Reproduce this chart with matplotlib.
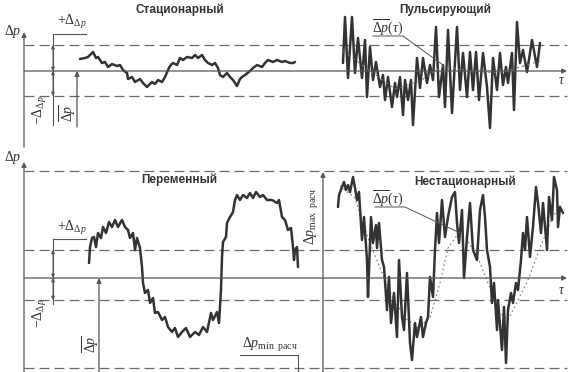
import matplotlib
matplotlib.use("Agg")
import matplotlib.pyplot as plt

plt.rcParams['mathtext.fontset'] = 'custom'
plt.rcParams['mathtext.rm'] = 'Liberation Serif'
plt.rcParams['mathtext.it'] = 'Liberation Serif:italic'
plt.rcParams['font.family'] = ['Liberation Sans', 'DejaVu Sans']

# ---- data (time in arbitrary units, pressure deviation from the mean) ----
stat_t = [80, 85, 88, 93, 96, 98, 102, 105, 108, 112, 117, 120, 123, 127, 128, 132, 135, 140, 143, 147,
          152, 155, 158, 162, 165, 168, 170, 173, 177, 180, 183, 187, 192, 195, 198, 202, 205, 208, 212,
          215, 218, 220, 223, 227, 230, 233, 237, 240, 242, 245, 250, 253, 257, 262, 265, 268, 273, 277,
          282, 285, 290, 293, 295]
stat_p = [12, 13, 14, 19, 13, 14, 8, 9, 4, 7, 5, 6, 1, -2, -8, -6, -11, -8, -12, -16,
          -11, -13, -9, -11, -6, 1, 5, 8, 6, 13, 11, 14, 13, 16, 13, 16, 11, 8, 6,
          8, 3, -4, -6, -2, -6, -9, -15, -8, -6, -4, 0, 3, 6, 4, 8, 11, 9, 11,
          9, 10, 8, 8, 9]

puls_t = [343, 345, 348, 352, 355, 358, 362, 365, 367, 370, 373, 376, 380, 383, 385, 388, 392, 395, 397,
          400, 403, 405, 408, 411, 413, 417, 420, 423, 427, 430, 433, 436, 439, 443, 445, 448, 452, 457,
          460, 463, 467, 470, 473, 476, 479, 483, 487, 490, 493, 497, 500, 503, 506, 508, 512, 514, 517,
          520, 523, 527, 532, 537, 540]
puls_p = [8, 54, -7, 54, -2, 33, -7, 31, -26, 24, -9, 9, -16, -4, -29, -6, -36, -12, -26,
          -6, -44, -9, -29, -9, -54, 13, -17, 13, -12, 6, -9, 44, -26, 6, -36, 41, -42, 44,
          -19, 18, -26, 19, -19, 19, -29, 18, -16, -57, 13, -19, 18, -14, 4, -12, 18, -39, 49,
          8, 21, -1, 31, 4, 28]
puls_mean_t = [343, 370, 395, 420, 443, 470, 500, 540]
puls_mean_p = [20, 0, -18, -10, 5, 0, -2, 10]

var_t = [89, 90, 92, 94, 96, 98, 101, 103, 106, 109, 112, 115, 118, 122, 125, 128, 130, 133, 135, 137,
         140, 142, 143, 145, 148, 150, 153, 155, 158, 162, 165, 168, 172, 175, 178, 182, 186, 190, 195,
         199, 203, 207, 211, 213, 217, 219, 221, 222, 223, 226, 227, 230, 233, 235, 237, 240, 243, 247,
         250, 253, 256, 260, 263, 267, 272, 277, 279, 282, 285, 288, 291, 293, 294, 295, 297, 298]
var_p = [15, 31, 40, 41, 31, 45, 40, 51, 45, 56, 51, 58, 51, 58, 51, 48, 40, 45, 28, 40,
         30, 11, -5, -15, -12, -25, -20, -35, -34, -42, -39, -49, -54, -50, -59, -54, -50, -59, -54,
         -57, -49, -54, -35, -42, -34, -45, -12, 21, 36, 41, 55, 61, 66, 78, 83, 78, 83, 80,
         85, 80, 86, 81, 83, 78, 78, 75, 78, 61, 58, 48, 50, 31, 18, 28, 31, 11]

nst_t = [338, 339, 342, 344, 346, 348, 350, 353, 355, 357, 359, 362, 364, 367, 368, 371, 373, 376, 377,
         379, 382, 384, 387, 389, 391, 394, 397, 399, 402, 404, 407, 410, 412, 415, 417, 421, 423, 426,
         428, 430, 433, 435, 437, 439, 442, 445, 448, 452, 455, 457, 459, 462, 464, 467, 470, 473, 477,
         480, 483, 485, 487, 490, 492, 494, 497, 498, 502, 504, 506, 508, 511, 513, 516, 518, 521, 523,
         525, 527, 530, 533, 536, 538, 541, 543, 547, 549, 552, 554, 557, 558, 560, 563]
nst_p = [71, 83, 91, 96, 88, 93, 86, 101, 90, 78, 86, 38, 61, 18, -19, 61, 35, 53, 30,
         55, 18, 11, -32, 1, -45, -15, -59, 18, -39, -52, 5, -65, -82, -45, -59, -39, -59, -45,
         -39, 1, -19, 28, 65, 35, 78, 41, 61, 81, 86, 55, 35, 68, 0, 41, 75, 28, 18,
         68, 83, 61, 28, 11, -25, -5, -52, -22, -72, -29, -85, -32, -15, -25, -5, -12, 18, 45,
         28, 61, 21, 51, 91, 75, 45, 75, 28, 81, 58, 101, 88, 51, 71, 65]
nst_mean_t = [340, 355, 368, 380, 392, 405, 418, 430, 440, 448, 458, 466, 478, 490, 500, 508, 518, 528,
              540, 552, 562]
nst_mean_p = [92, 80, 40, 10, -18, -40, -50, -40, -5, 30, 44, 40, 20, -10, -35, -42, -22, -2, 30, 60, 75]

top_levels = [26, -25]
bot_levels = [107, 28, -22, -90]

curve_c = '#333333'
line_c = '#555555'
dash_c = '#6a6a6a'
txt_c = '#333333'

fig = plt.figure(figsize=(5.86, 3.72), dpi=100)
ax1 = fig.add_axes([0, 222 / 372, 1, 150 / 372])
ax2 = fig.add_axes([0, 0, 1, 222 / 372])
ax1.set_xlim(0, 586)
ax1.set_ylim(-79, 71)
ax2.set_xlim(0, 586)
ax2.set_ylim(-94, 128)
for ax in (ax1, ax2):
    ax.axis('off')

arr = dict(arrowstyle='-|>', color=line_c, lw=0.9, mutation_scale=7, shrinkA=0, shrinkB=0)
dbl = dict(arrowstyle='<|-|>', color=line_c, lw=0.7, mutation_scale=5, shrinkA=0, shrinkB=0)
curve_kw = dict(color=curve_c, lw=1.8, solid_joinstyle='round', solid_capstyle='round')

# ---- top row ----
for lv in top_levels:
    ax1.plot([24, 567], [lv, lv], color=dash_c, lw=0.9, dashes=(8, 4))
ax1.annotate('', xy=(567, 0), xytext=(24, 0), arrowprops=arr)
ax1.annotate('', xy=(24, 39), xytext=(24, -76), arrowprops=arr)
ax1.plot(stat_t, stat_p, **curve_kw)
ax1.plot(puls_t, puls_p, **curve_kw)
ax1.plot(puls_mean_t, puls_mean_p, color='#777777', lw=0.7, dashes=(3, 3))

ax1.text(180, 61, 'Стационарный', ha='center', va='center', fontsize=8.5, fontweight='bold', color=txt_c)
ax1.text(445, 61, 'Пульсирующий', ha='center', va='center', fontsize=8.5, fontweight='bold', color=txt_c)
ax1.text(13, 39, r'$\Delta p$', ha='center', va='center', fontsize=10, color=txt_c)
ax1.text(72, 49, r'$+\Delta_{\Delta p}$', ha='center', va='center', fontsize=10, color=txt_c)
ax1.plot([53, 86], [37, 37], color=line_c, lw=0.8)
ax1.plot([53, 53], [37, -54], color=line_c, lw=0.8)
ax1.annotate('', xy=(53, top_levels[0]), xytext=(53, 0), arrowprops=dbl)
ax1.annotate('', xy=(53, top_levels[1]), xytext=(53, 0), arrowprops=dbl)
ax1.text(40, -39, r'$-\Delta_{\Delta p}$', ha='center', va='center', rotation=90, fontsize=10, color=txt_c)
ax1.text(68, -42, r'$\overline{\Delta p}$', ha='center', va='center', rotation=90, fontsize=10, color=txt_c)
ax1.annotate('', xy=(77, 0), xytext=(77, -56), arrowprops=arr)
ax1.text(388, 43, r'$\overline{\Delta p}(\tau)$', ha='center', va='center', fontsize=10, color=txt_c)
ax1.plot([373, 403, 443], [35, 35, 6], color=line_c, lw=0.7)
ax1.text(562, -9, r'$\tau$', ha='center', va='center', fontsize=10, color=txt_c)

# ---- bottom row ----
for lv in bot_levels:
    ax2.plot([24, 567], [lv, lv], color=dash_c, lw=0.9, dashes=(8, 4))
ax2.annotate('', xy=(567, 0), xytext=(24, 0), arrowprops=arr)
ax2.annotate('', xy=(24, 116), xytext=(24, -94), arrowprops=arr)
ax2.annotate('', xy=(323, 106), xytext=(323, -94), arrowprops=arr)
ax2.plot(var_t, var_p, **curve_kw)
ax2.plot(nst_mean_t, nst_mean_p, color='#777777', lw=0.8, dashes=(1.5, 2.5))
ax2.plot(nst_t, nst_p, **curve_kw)

ax2.text(179, 98, 'Переменный', ha='center', va='center', fontsize=8.5, fontweight='bold', color=txt_c)
ax2.text(465, 96, 'Нестационарный', ha='center', va='center', fontsize=8.5, fontweight='bold', color=txt_c)
ax2.text(13, 121, r'$\Delta p$', ha='center', va='center', fontsize=10, color=txt_c)
ax2.text(72, 50, r'$+\Delta_{\Delta p}$', ha='center', va='center', fontsize=10, color=txt_c)
ax2.plot([53, 86], [39, 39], color=line_c, lw=0.8)
ax2.plot([53, 53], [39, -26], color=line_c, lw=0.8)
ax2.annotate('', xy=(53, bot_levels[1]), xytext=(53, 0), arrowprops=dbl)
ax2.annotate('', xy=(53, bot_levels[2]), xytext=(53, 0), arrowprops=dbl)
ax2.text(40, -35, r'$-\Delta_{\Delta p}$', ha='center', va='center', rotation=90, fontsize=10, color=txt_c)
ax2.text(91, -66, r'$\overline{\Delta p}$', ha='center', va='center', rotation=90, fontsize=10, color=txt_c)
ax2.annotate('', xy=(99, 0), xytext=(99, -94), arrowprops=arr)
ax2.text(242, -67, r'$\Delta p_{\mathrm{min\ \ расч}}$', ha='left', va='center', fontsize=10, color=txt_c)
ax2.plot([240, 298, 298], [-77, -77, -94], color=line_c, lw=0.8)
ax2.text(312, 62, r'$\Delta p_{\mathrm{max\ \ расч}}$', ha='center', va='center', rotation=90, fontsize=10,
         color=txt_c)
ax2.text(388, 79, r'$\overline{\Delta p}(\tau)$', ha='center', va='center', fontsize=10, color=txt_c)
ax2.plot([375, 405, 460], [71, 71, 45], color=line_c, lw=0.7)
ax2.text(562, -12, r'$\tau$', ha='center', va='center', fontsize=10, color=txt_c)

fig.savefig('out.png', dpi=100, facecolor='white')
